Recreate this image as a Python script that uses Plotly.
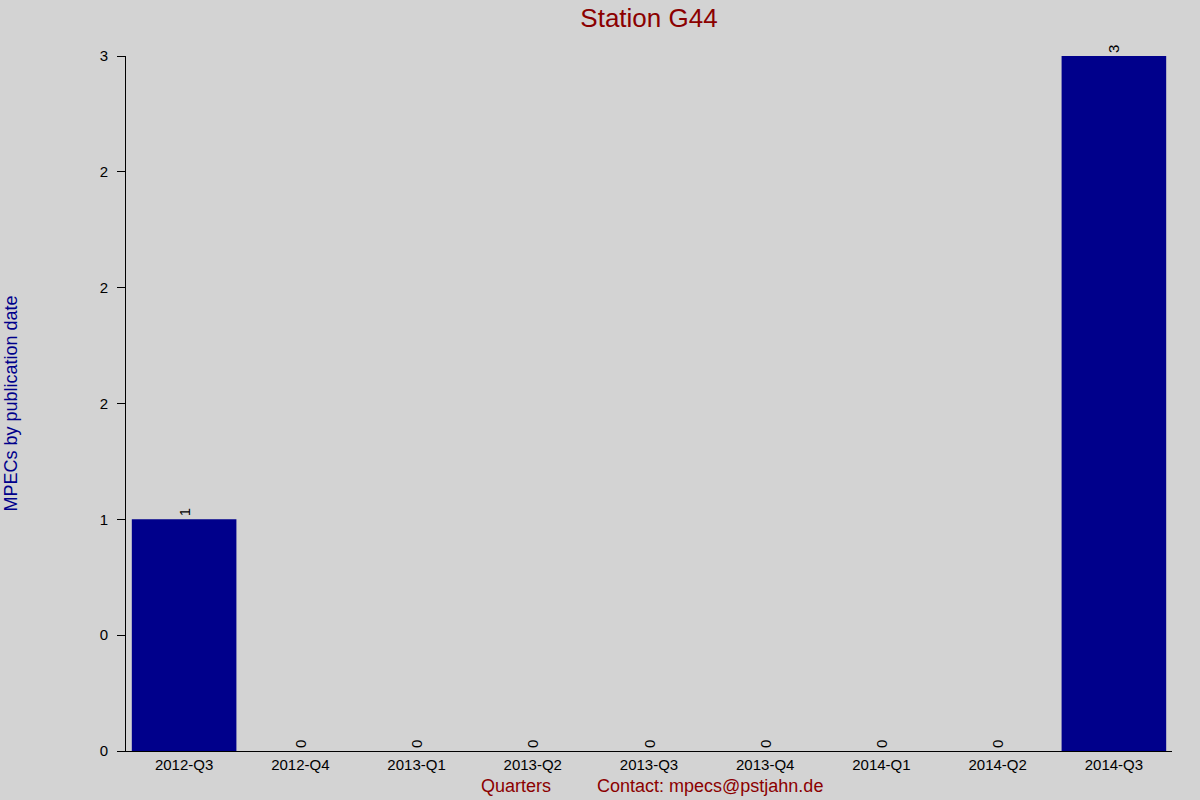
import plotly.graph_objects as go

# quarters and MPEC counts per quarter
quarters = ["2012-Q3", "2012-Q4", "2013-Q1", "2013-Q2", "2013-Q3",
            "2013-Q4", "2014-Q1", "2014-Q2", "2014-Q3"]
mpecs = [1, 0, 0, 0, 0, 0, 0, 0, 3]

# y ticks as printed on the original (rounded labels)
y_tickvals = [0, 0.5, 1, 1.5, 2, 2.5, 3]
y_ticktext = ["0", "0", "1", "2", "2", "2", "3"]

BG = "#d3d3d3"
BAR = "#00008b"
RED = "#8b0000"

fig = go.Figure(
    go.Bar(
        x=quarters,
        y=mpecs,
        marker=dict(color=BAR, line=dict(width=0)),
        text=[str(v) for v in mpecs],
        textposition="outside",
        textangle=-90,
        textfont=dict(color="black", size=15),
        cliponaxis=False,
    )
)

fig.update_layout(
    width=1200,
    height=800,
    paper_bgcolor=BG,
    plot_bgcolor=BG,
    font=dict(family="Liberation Sans, Arial", color="black", size=15),
    margin=dict(l=126, r=28, t=56, b=49),
    bargap=0.1,
    showlegend=False,
    title=dict(
        text="Station G44",
        font=dict(size=26, color=RED),
        x=(126 + 1172) / 2 / 1200,
        xanchor="center",
        y=1 - 18 / 800,
        yanchor="middle",
    ),
    xaxis=dict(
        showline=True,
        linecolor="black",
        linewidth=1,
        showgrid=False,
        ticks="",
        tickfont=dict(size=15),
    ),
    yaxis=dict(
        range=[0, 3],
        tickvals=y_tickvals,
        ticktext=y_ticktext,
        showline=True,
        linecolor="black",
        linewidth=1,
        showgrid=False,
        zeroline=False,
        ticks="outside",
        ticklen=8,
        tickcolor="black",
        ticklabelstandoff=6,
        tickfont=dict(size=15),
    ),
    annotations=[
        dict(
            text="MPECs by publication date",
            xref="paper", yref="paper",
            x=(10 - 126) / 1046, y=0.5,
            xanchor="center", yanchor="middle",
            textangle=-90,
            showarrow=False,
            font=dict(size=18, color=BAR),
        ),
        dict(
            text="Quarters",
            xref="paper", yref="paper",
            x=(516 - 126) / 1046, y=-(786 - 751) / 695,
            xanchor="center", yanchor="middle",
            showarrow=False,
            font=dict(size=18, color=RED),
        ),
        dict(
            text="Contact: mpecs@pstjahn.de",
            xref="paper", yref="paper",
            x=(710 - 126) / 1046, y=-(786 - 751) / 695,
            xanchor="center", yanchor="middle",
            showarrow=False,
            font=dict(size=18, color=RED),
        ),
    ],
)

# drop the default page margin so the 1200x800 figure fills the window
fig.write_html(
    "out.html",
    config={"displayModeBar": False},
    post_script="document.body.style.margin='0';document.body.style.overflow='hidden';",
)
